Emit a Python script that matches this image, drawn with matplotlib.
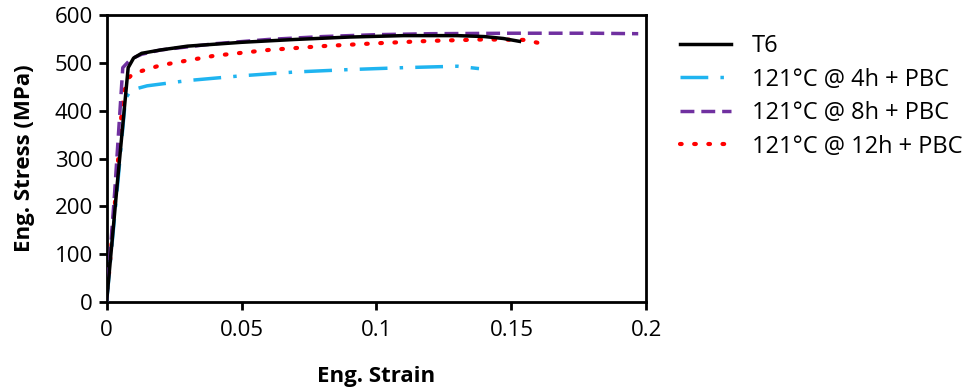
import matplotlib
matplotlib.use("Agg")
import matplotlib.pyplot as plt

plt.rcParams['font.family'] = ['Open Sans', 'DejaVu Sans']

strain_t6 = [0, 0.004, 0.008, 0.010, 0.013, 0.02, 0.03, 0.05, 0.07, 0.09, 0.11, 0.13, 0.14, 0.147, 0.153]
stress_t6 = [0, 250, 490, 510, 520, 527, 535, 543, 549, 554, 557, 557, 555, 551, 545]

strain_4h = [0, 0.004, 0.007, 0.009, 0.015, 0.03, 0.05, 0.07, 0.09, 0.11, 0.13, 0.138]
stress_4h = [0, 240, 425, 443, 452, 463, 473, 481, 486, 490, 493, 488]

strain_8h = [0, 0.003, 0.006, 0.009, 0.013, 0.02, 0.04, 0.06, 0.08, 0.1, 0.12, 0.15, 0.18, 0.197]
stress_8h = [0, 230, 490, 508, 518, 527, 540, 549, 555, 559, 561, 562, 562, 561]

strain_12h = [0, 0.003, 0.006, 0.008, 0.01, 0.02, 0.04, 0.06, 0.08, 0.1, 0.12, 0.14, 0.155, 0.163]
stress_12h = [0, 200, 430, 468, 478, 495, 515, 527, 535, 541, 546, 549, 548, 538]

labels = ['T6', '121°C @ 4h + PBC', '121°C @ 8h + PBC', '121°C @ 12h + PBC']
xticks = [0, 0.05, 0.1, 0.15, 0.2]
xticklabels = ['0', '0.05', '0.1', '0.15', '0.2']
yticks = [0, 100, 200, 300, 400, 500, 600]

fig = plt.figure(figsize=(9.69, 3.92), dpi=100)
ax = fig.add_axes([0.110, 0.2296, 0.557, 0.732])

ax.plot(strain_t6, stress_t6, color='black', lw=2.5, label=labels[0], zorder=5)
ax.plot(strain_4h, stress_4h, color='#1fb4f0', lw=2.5, dashes=(8, 3.5, 1, 3.5), label=labels[1], zorder=3)
ax.plot(strain_8h, stress_8h, color='#7030a0', lw=2.5, dashes=(4, 2), label=labels[2], zorder=4)
ax.plot(strain_12h, stress_12h, color='#ff0000', lw=3, linestyle=(0, (0.4, 3)), dash_capstyle='round', label=labels[3], zorder=2)

ax.set_xlim(0, 0.2)
ax.set_ylim(0, 600)
ax.set_xticks(xticks)
ax.set_xticklabels(xticklabels)
ax.set_yticks(yticks)
ax.tick_params(axis='both', direction='out', length=6, width=2, labelsize=16, pad=4)
ax.tick_params(axis='x', pad=7)
for s in ax.spines.values():
    s.set_linewidth(2)
ax.set_xlabel('Eng. Strain', fontsize=16, fontweight='bold', labelpad=18)
ax.set_ylabel('Eng. Stress (MPa)', fontsize=16, fontweight='bold', labelpad=14)

fig.legend(loc='upper left', bbox_to_anchor=(0.680, 0.967), frameon=False, fontsize=17,
           handlelength=2.15, handletextpad=0.9, labelspacing=0.4)

fig.savefig('out.png', dpi=100)
